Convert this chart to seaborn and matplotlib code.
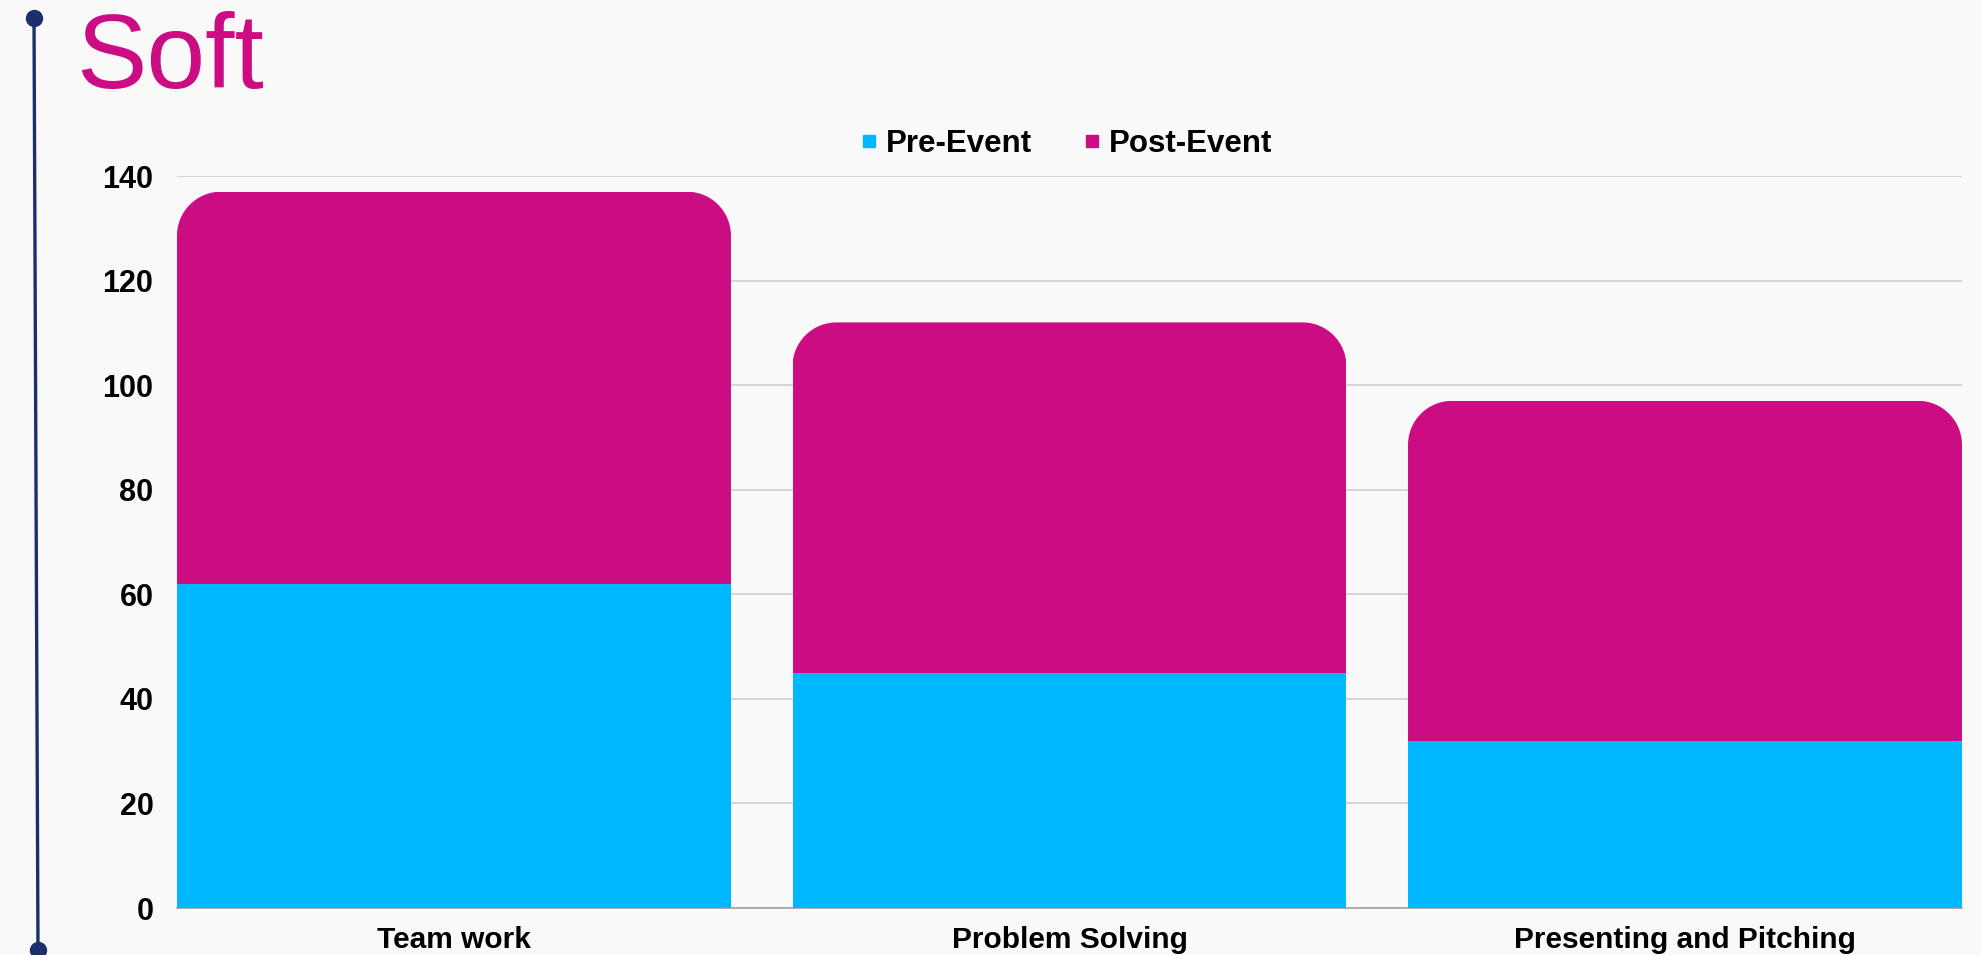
import numpy as np
import pandas as pd
import seaborn as sns
import matplotlib.pyplot as plt
from matplotlib.patches import PathPatch
from matplotlib.path import Path
from matplotlib.lines import Line2D

categories = ["Team work", "Problem Solving", "Presenting and Pitching"]
pre_event = [62, 45, 32]
post_event = [75, 67, 65]
y_ticks = [0, 20, 40, 60, 80, 100, 120, 140]

pre_color = "#00B8FF"
post_color = "#CC0C82"
bg = "#F9F9F9"

sns.set_style("white")
plt.rcParams['font.family'] = ['Liberation Sans', 'DejaVu Sans']
plt.rcParams['text.color'] = 'black'

df = pd.DataFrame({"skill": categories, "pre": pre_event, "post": post_event})
df["total"] = df["pre"] + df["post"]

fig = plt.figure(figsize=(19.82, 9.55), dpi=100, facecolor=bg)
ax = fig.add_axes([0.0893, 0.0492, 0.9006, 0.7665])
ax.set_facecolor(bg)

bw = 0.9
sns.barplot(data=df, x="skill", y="total", color=post_color, saturation=1,
            width=bw, ax=ax, zorder=2, linewidth=0)
sns.barplot(data=df, x="skill", y="pre", color=pre_color, saturation=1,
            width=bw, ax=ax, zorder=3, linewidth=0)

ax.set_xlim(-bw / 2, len(categories) - 1 + bw / 2)
ax.set_ylim(0, 140)
ax.set_yticks(y_ticks)
ax.yaxis.grid(True, color="#D0D0D0", linewidth=1.2, zorder=0)
ax.set_axisbelow(True)
for s in ["top", "right", "left"]:
    ax.spines[s].set_visible(False)
ax.spines["bottom"].set_color("#A0A0A0")
ax.spines["bottom"].set_linewidth(1.2)
ax.set_xlabel("")
ax.set_ylabel("")
ax.tick_params(axis="y", length=0, pad=17, labelsize=22)
ax.tick_params(axis="x", length=0, pad=13, labelsize=21.5)
for lab in ax.get_xticklabels() + ax.get_yticklabels():
    lab.set_fontweight("bold")
    lab.set_color("black")

# rounded (circular) tops on the stacked bars
bbox = ax.get_window_extent()
xu = (ax.get_xlim()[1] - ax.get_xlim()[0]) / bbox.width
yu = (ax.get_ylim()[1] - ax.get_ylim()[0]) / bbox.height
r_px = 44
rx, ry = r_px * xu, r_px * yu
k = 0.5523
for p in ax.patches[:len(categories)]:
    x0, w, h = p.get_x(), p.get_width(), p.get_height()
    x1 = x0 + w
    verts = [(x0, -30), (x0, h - ry),
             (x0, h - ry + k * ry), (x0 + rx - k * rx, h), (x0 + rx, h),
             (x1 - rx, h),
             (x1 - rx + k * rx, h), (x1, h - ry + k * ry), (x1, h - ry),
             (x1, -30), (x0, -30)]
    codes = [Path.MOVETO, Path.LINETO,
             Path.CURVE4, Path.CURVE4, Path.CURVE4,
             Path.LINETO,
             Path.CURVE4, Path.CURVE4, Path.CURVE4,
             Path.LINETO, Path.CLOSEPOLY]
    clip = PathPatch(Path(verts, codes), transform=ax.transData)
    p.set_clip_path(clip)

handles = [Line2D([], [], marker="s", linestyle="", markersize=9,
                  color=c) for c in (pre_color, post_color)]
fig.legend(handles, ["Pre-Event", "Post-Event"], loc="center",
           bbox_to_anchor=(1063 / 1982, 1 - 144 / 955), ncol=2, frameon=False,
           prop={"weight": "bold", "size": 22.5}, handletextpad=0.05,
           columnspacing=1.4, handlelength=1.0, labelcolor="black")

fig.text(76 / 1982, 1 - 88 / 955, "Soft", color=post_color, fontsize=76,
         ha="left", va="baseline")

line_color = "#1B2F6B"
fig.add_artist(Line2D([34 / 1982, 38 / 1982], [1 - 18 / 955, 1 - 950 / 955],
                      transform=fig.transFigure, color=line_color, linewidth=2.4,
                      marker="o", markersize=11.5, markevery=[0, 1]))

fig.savefig("out.png", dpi=100, facecolor=bg)
